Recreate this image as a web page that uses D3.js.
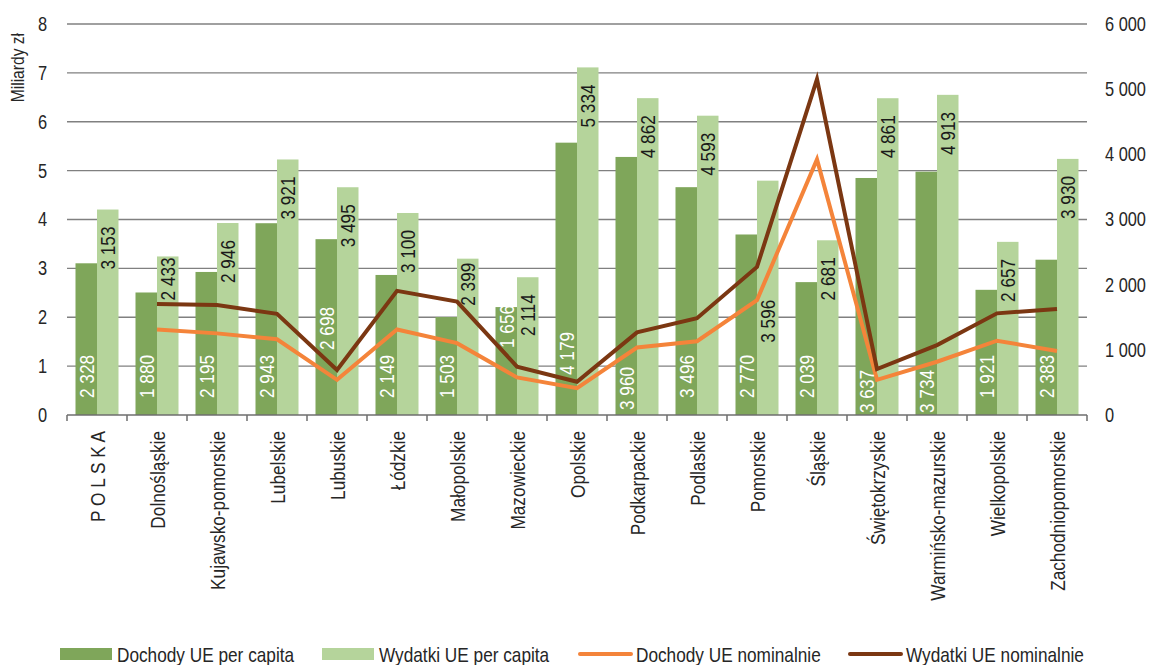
<!DOCTYPE html>
<html>
<head>
<meta charset="utf-8">
<script src="https://cdn.jsdelivr.net/npm/d3@7/dist/d3.min.js"></script>
<style>
  html, body { margin: 0; padding: 0; background: #fff; }
  svg text { font-family: 'Liberation Sans', Arial, sans-serif; }
</style>
</head>
<body>
<svg id="chart" width="1152" height="665"></svg>
<script>
const categories = ["P O L S K A","Dolnośląskie","Kujawsko-pomorskie","Lubelskie","Lubuskie","Łódzkie","Małopolskie","Mazowieckie","Opolskie","Podkarpackie","Podlaskie","Pomorskie","Śląskie","Świętokrzyskie","Warmińsko-mazurskie","Wielkopolskie","Zachodniopomorskie"];
const dochodyPerCapita = [2328,1880,2195,2943,2698,2149,1503,1656,4179,3960,3496,2770,2039,3637,3734,1921,2383];
const wydatkiPerCapita = [3153,2433,2946,3921,3495,3100,2399,2114,5334,4862,4593,3596,2681,4861,4913,2657,3930];
const dochodyNominalnie = [null,1.75,1.67,1.55,0.72,1.75,1.47,0.77,0.55,1.38,1.51,2.35,5.23,0.72,1.09,1.52,1.31];
const wydatkiNominalnie = [null,2.27,2.25,2.07,0.92,2.54,2.32,0.99,0.68,1.69,1.98,3.03,6.87,0.94,1.43,2.08,2.17];
const leftTicks = [0,1,2,3,4,5,6,7,8];
const rightTicks = [0,1000,2000,3000,4000,5000,6000];
const seriesNames = ["Dochody UE per capita","Wydatki UE per capita","Dochody UE nominalnie","Wydatki UE nominalnie"];

const C_DARK = "#7FA65A", C_LIGHT = "#B5D49B", C_ORANGE = "#F4843A", C_BROWN = "#7B3712";
const NARROW = 0.82; // emulate a narrow sans face
const svg = d3.select("#chart");
const pLeft = 67, pRight = 1087, pTop = 24, pBottom = 415;

const x = d3.scaleBand().domain(categories).range([pLeft, pRight]).paddingInner(0).paddingOuter(0);
const yL = d3.scaleLinear().domain([0, 8]).range([pBottom, pTop]);
const yR = d3.scaleLinear().domain([0, 6000]).range([pBottom, pTop]);
const fmt = v => d3.format(",")(v).replace(/,/g, " ");
const barW = 21.5;

function condense(sel) {
  sel.each(function() {
    const len = this.getComputedTextLength();
    if (len > 0) d3.select(this).attr("textLength", len * NARROW).attr("lengthAdjust", "spacingAndGlyphs");
  });
  return sel;
}
function ntext(parent, tx, ty, rot, str, opts) {
  const t = parent.append("text")
    .attr("transform", `translate(${tx},${ty})` + (rot ? ` rotate(${rot})` : ""))
    .attr("text-anchor", opts.anchor || "start").attr("dy", opts.dy || "0.36em")
    .attr("font-size", opts.size || 21).attr("fill", opts.fill || "#262626").text(str);
  condense(t);
  return t;
}

// gridlines
svg.append("g").selectAll("line").data(leftTicks.filter(d => d > 0)).join("line")
  .attr("x1", pLeft).attr("x2", pRight)
  .attr("y1", d => yL(d)).attr("y2", d => yL(d))
  .attr("stroke", "#808080").attr("stroke-width", 1.3);

// left axis labels
const gl = svg.append("g").attr("transform", `translate(${pLeft},0)`)
  .call(d3.axisLeft(yL).tickValues(leftTicks).tickSize(0).tickPadding(20).tickFormat(d3.format("d")));
gl.select(".domain").remove();
condense(gl.selectAll("text").attr("font-size", 20).attr("fill", "#262626").attr("font-family", "'Liberation Sans', Arial, sans-serif"));

// right axis labels (condensed via a horizontal scale)
const gr = svg.append("g").attr("transform", `translate(${pRight},0)`)
  .call(d3.axisRight(yR).tickValues(rightTicks).tickSize(0).tickPadding(18).tickFormat(fmt));
gr.select(".domain").remove();
gr.selectAll("text").attr("font-size", 20).attr("fill", "#262626").attr("font-family", "'Liberation Sans', Arial, sans-serif")
  .attr("x", function() { return +d3.select(this).attr("x") / NARROW; })
  .attr("transform", `scale(${NARROW},1)`);

// axis title
ntext(svg, 17, 33, -90, "Miliardy zł", {anchor: "end", size: 19});

// bars
const cx = d => x(d) + x.bandwidth() / 2;
svg.append("g").selectAll("rect").data(categories).join("rect")
  .attr("x", d => cx(d) - barW).attr("width", barW)
  .attr("y", (d, i) => yR(dochodyPerCapita[i]))
  .attr("height", (d, i) => pBottom - yR(dochodyPerCapita[i]))
  .attr("fill", C_DARK);
svg.append("g").selectAll("rect").data(categories).join("rect")
  .attr("x", d => cx(d)).attr("width", barW)
  .attr("y", (d, i) => yR(wydatkiPerCapita[i]))
  .attr("height", (d, i) => pBottom - yR(wydatkiPerCapita[i]))
  .attr("fill", C_LIGHT);

// bottom axis
const gx = svg.append("g").attr("transform", `translate(0,${pBottom})`);
gx.append("line").attr("x1", pLeft).attr("x2", pRight).attr("stroke", "#6e6e6e").attr("stroke-width", 1.5);
gx.selectAll("line.tk").data(d3.range(categories.length + 1)).join("line").attr("class", "tk")
  .attr("x1", i => pLeft + i * x.bandwidth()).attr("x2", i => pLeft + i * x.bandwidth())
  .attr("y1", 0).attr("y2", 6).attr("stroke", "#6e6e6e").attr("stroke-width", 1.5);
categories.forEach(c => ntext(gx, cx(c), 16, -90, c, {anchor: "end", size: 21}));

// lines
const lineGen = d3.line().defined(d => d.v != null).x(d => cx(d.c)).y(d => yL(d.v));
svg.append("path").datum(categories.map((c, i) => ({c, v: dochodyNominalnie[i]})))
  .attr("d", lineGen).attr("fill", "none").attr("stroke", C_ORANGE).attr("stroke-width", 4).attr("stroke-linejoin", "miter");
svg.append("path").datum(categories.map((c, i) => ({c, v: wydatkiNominalnie[i]})))
  .attr("d", lineGen).attr("fill", "none").attr("stroke", C_BROWN).attr("stroke-width", 4).attr("stroke-linejoin", "miter");

// bar value labels
const darkShift = {4: -48, 7: -50, 8: -23, 9: 12, 13: 15, 14: 15};
const lightShift = {1: -16, 6: -13, 11: 102};
const lblG = svg.append("g");
categories.forEach((c, i) => {
  ntext(lblG, cx(c) - barW / 2, pBottom - 17 + (darkShift[i] || 0), -90, fmt(dochodyPerCapita[i]),
    {anchor: "start", size: 21, fill: "#ffffff"});
  ntext(lblG, cx(c) + barW / 2, yR(wydatkiPerCapita[i]) + 17 + (lightShift[i] || 0), -90, fmt(wydatkiPerCapita[i]),
    {anchor: "end", size: 21, fill: "#1a1a1a"});
});

// legend
const legendX = [60, 322, 579, 849];
const lg = svg.append("g");
seriesNames.forEach((name, i) => {
  const g = lg.append("g").attr("transform", `translate(${legendX[i]},654)`);
  if (i < 2) {
    g.append("rect").attr("x", 0).attr("y", -6).attr("width", 52).attr("height", 12).attr("fill", i === 0 ? C_DARK : C_LIGHT);
  } else {
    g.append("line").attr("x1", 1).attr("x2", 52).attr("y1", 0).attr("y2", 0)
      .attr("stroke", i === 2 ? C_ORANGE : C_BROWN).attr("stroke-width", 4).attr("stroke-linecap", "round");
  }
  ntext(g, 57, 0, 0, name, {anchor: "start", size: 21});
});
</script>
</body>
</html>
